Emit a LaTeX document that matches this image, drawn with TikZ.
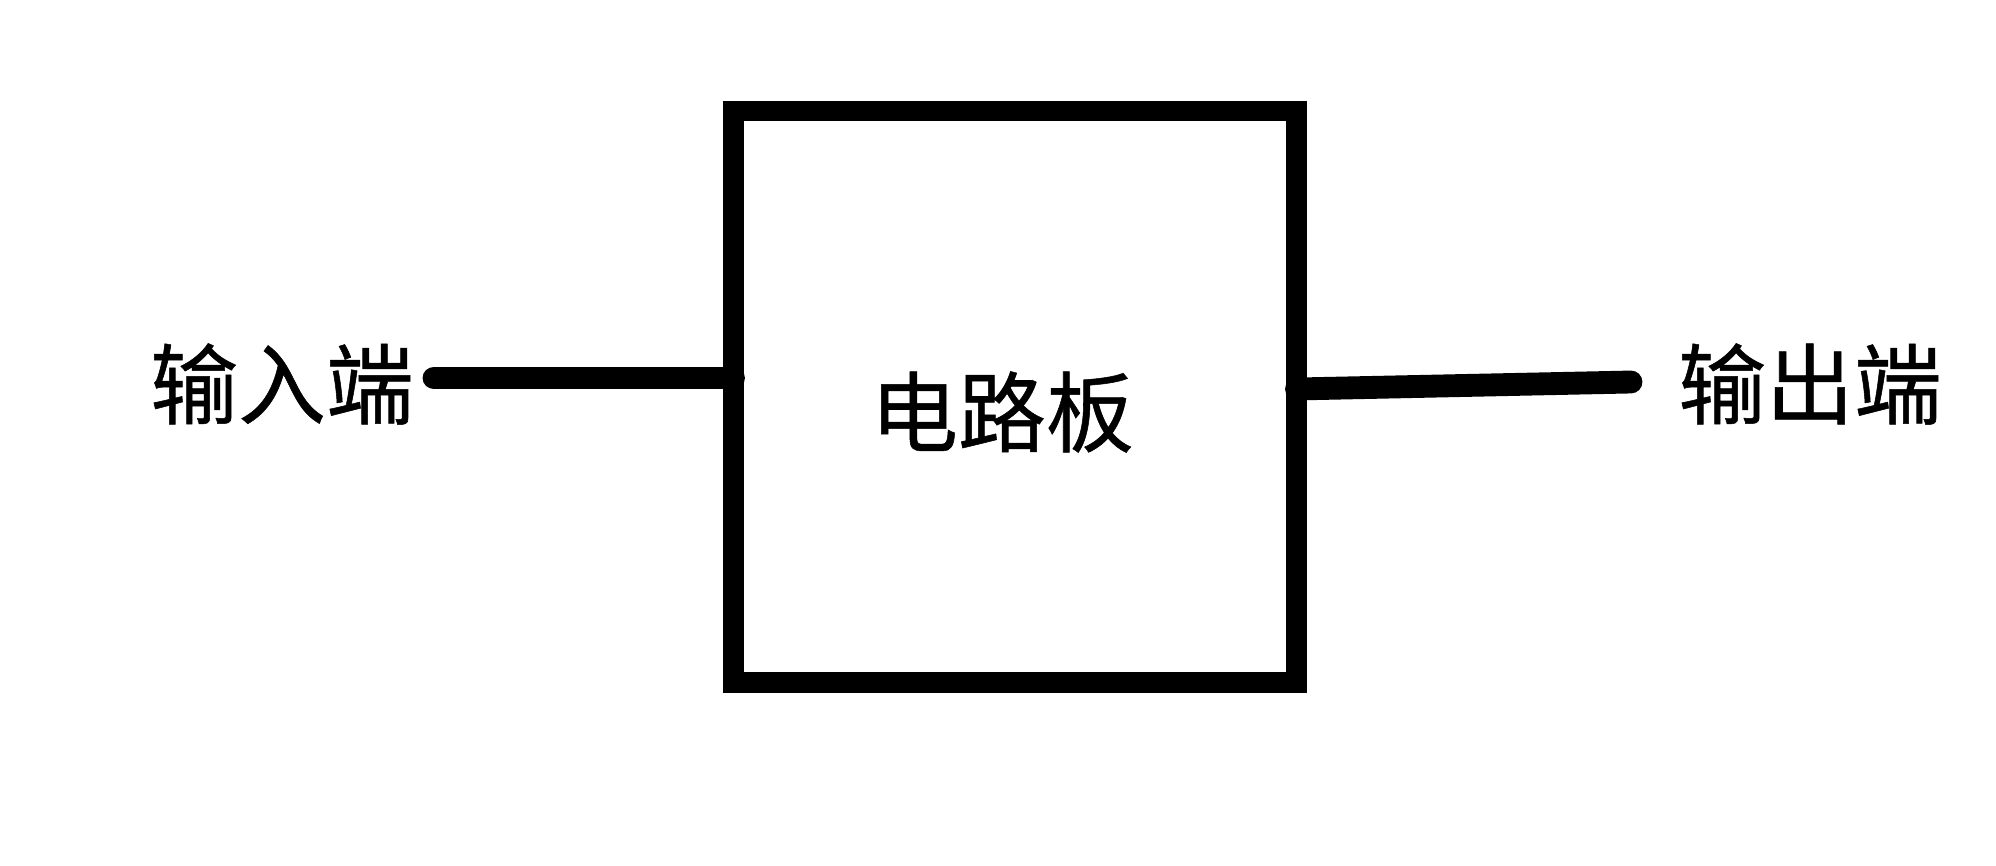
\documentclass[tikz,border=0pt]{standalone}
\usepackage{fontspec}
\newfontfamily\cjk[FakeBold=0.6]{Noto Sans CJK SC}
\begin{document}
\begin{tikzpicture}[
  boardbox/.style={draw=black, line width=5.97pt, minimum width=5.63cm, minimum height=5.715cm, outer sep=0pt, inner sep=0pt},
  wire/.style={draw=black, line width=6.5pt, line cap=round},
  lbl/.style={font=\cjk\fontsize{25pt}{29pt}\selectfont, inner sep=0pt, text=black}
]
\useasboundingbox (0,0) rectangle (19.96,-8.66);
\node[boardbox] (board) at (10.15,-3.9675) {};
\node[lbl] (boardtxt) at (10.02,-4.12) {电路板};
\node[lbl] (in) at (2.82,-3.84) {输入端};
\node[lbl] (out) at (18.10,-3.84) {输出端};
\coordinate (inend) at (4.34,-3.78);
\coordinate (outend) at (16.31,-3.82);
\coordinate (boardR) at (12.965,-3.89);
\draw[wire] (inend) -- (inend -| board.west);
\draw[wire] (boardR) -- (outend);
\end{tikzpicture}
\end{document}
